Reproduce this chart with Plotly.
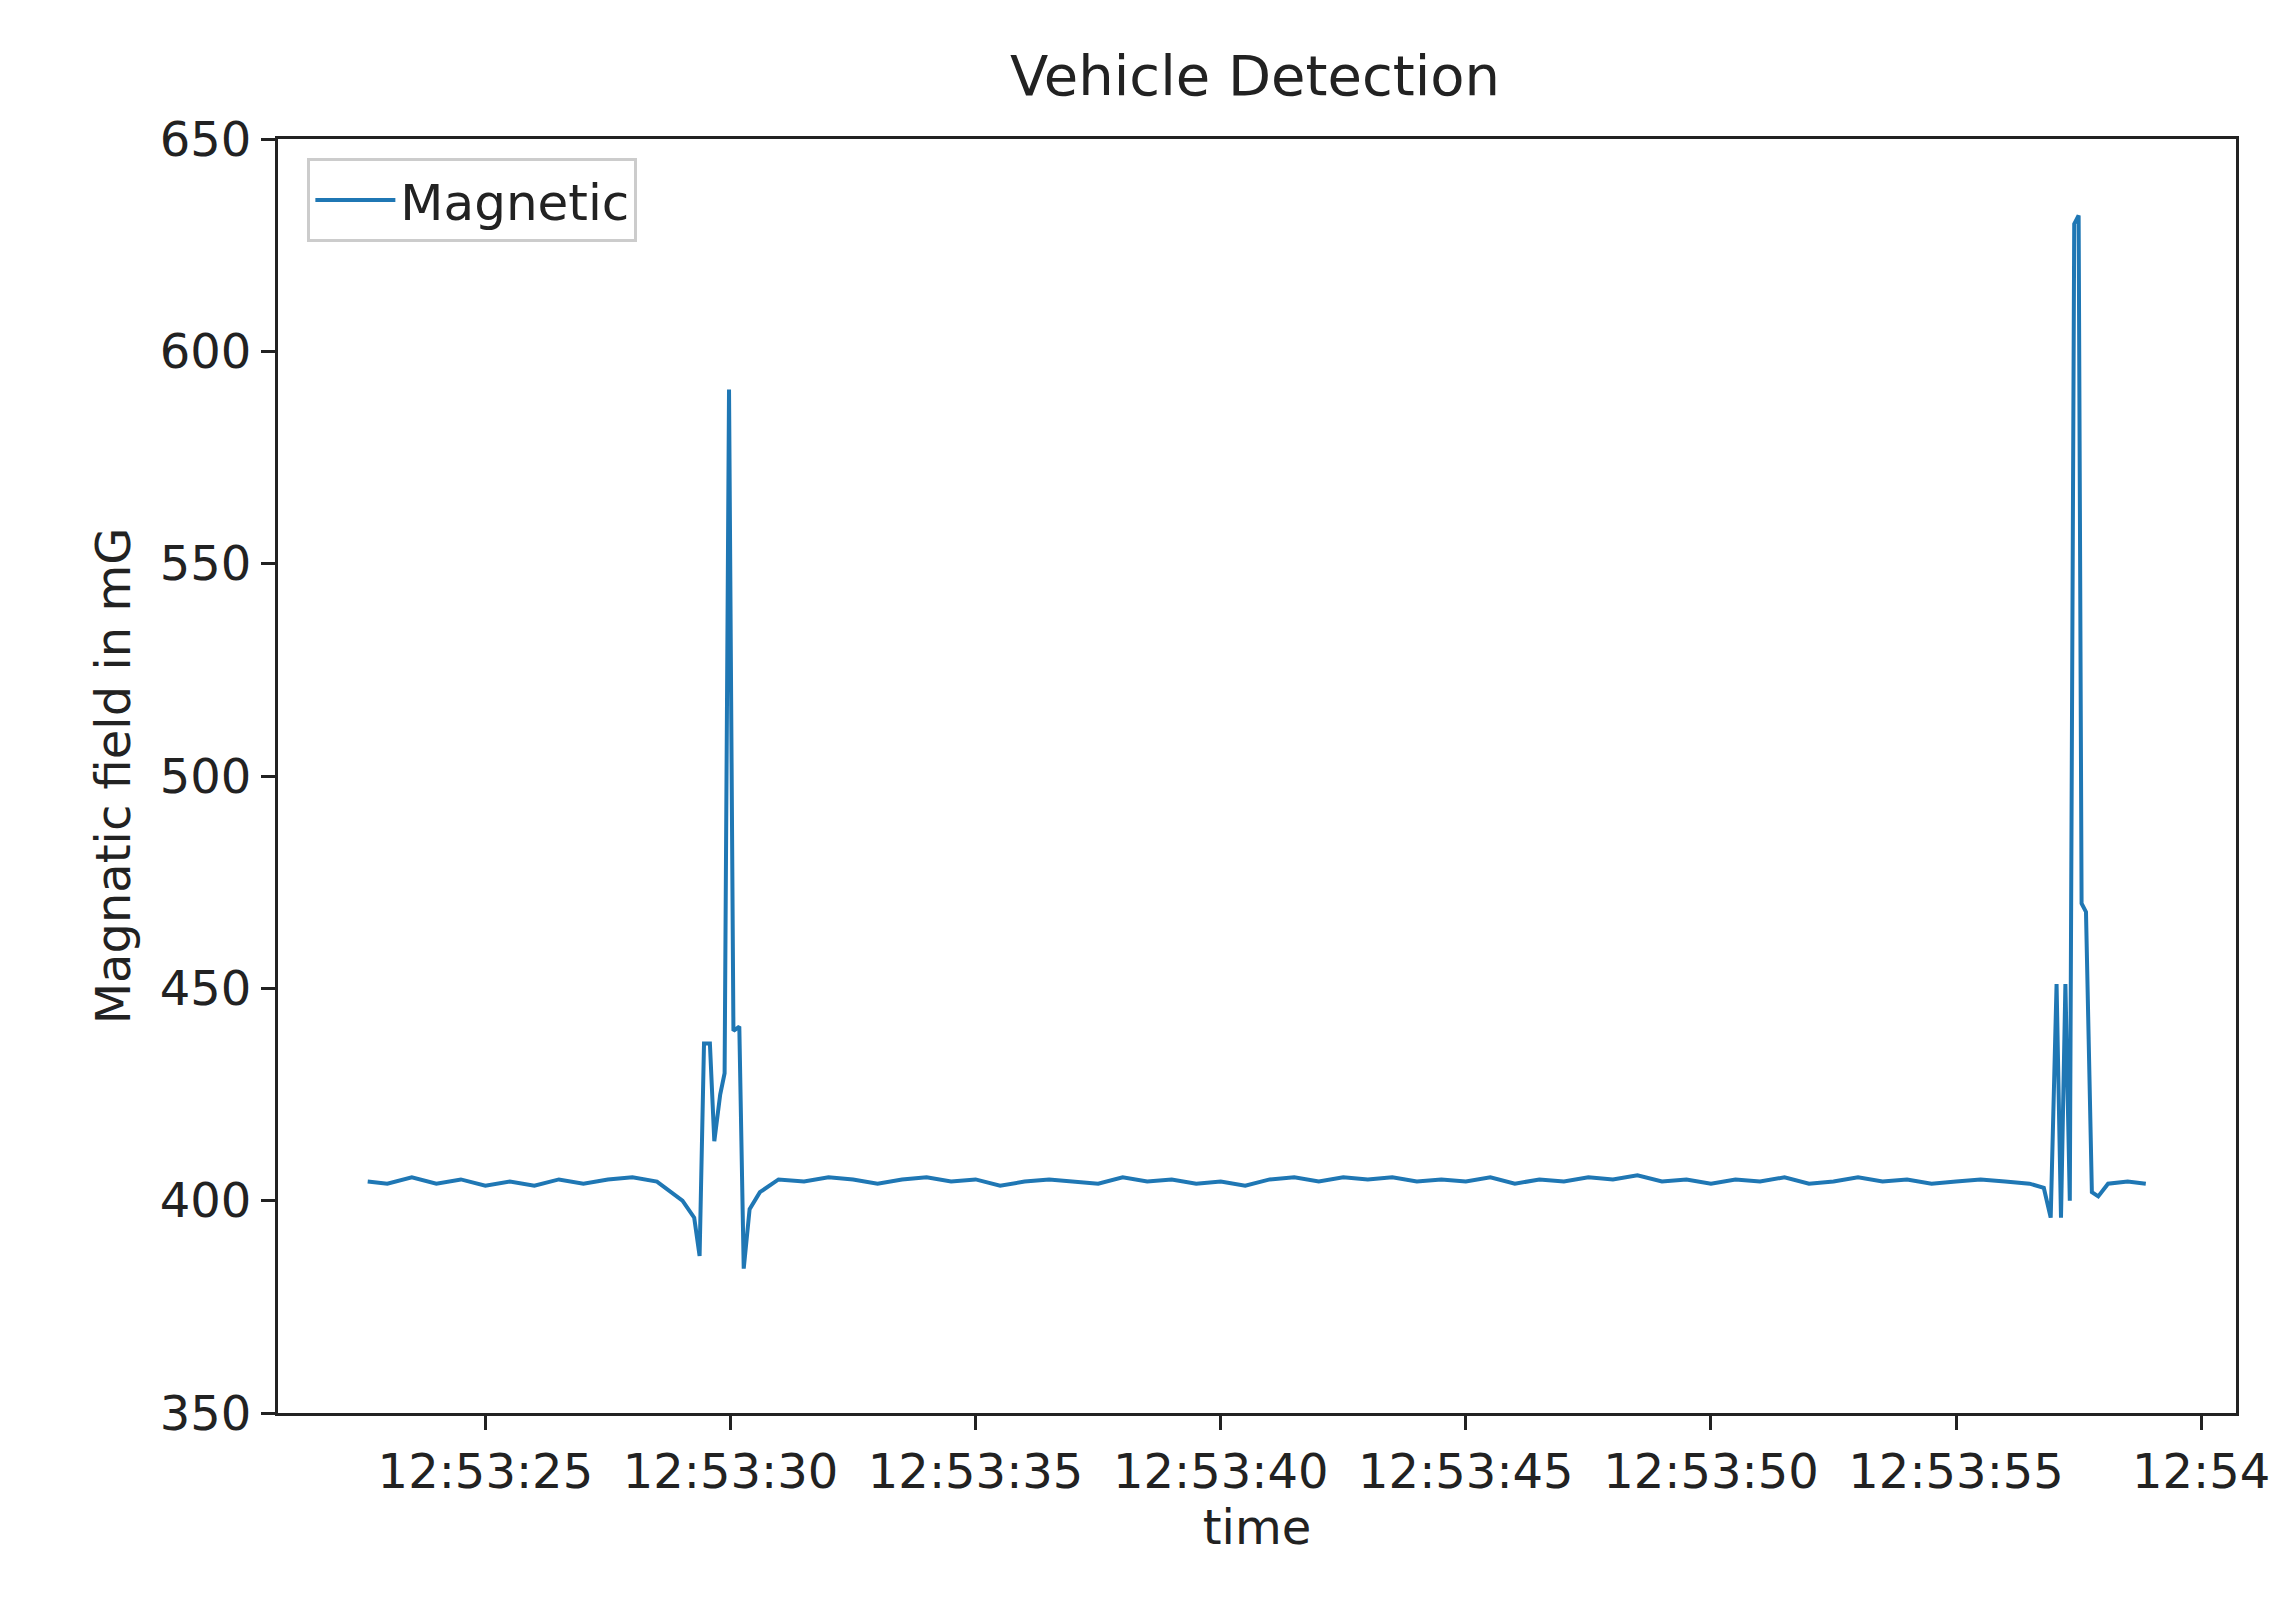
import plotly.graph_objects as go
import pandas as pd

# seconds after 12:53:00 and magnetic field readings (mG)
seconds = [22.6, 23.0, 23.5, 24.0, 24.5, 25.0, 25.5, 26.0, 26.5, 27.0, 27.5, 28.0, 28.5,
           29.02, 29.26, 29.37, 29.46, 29.58, 29.67, 29.79, 29.88, 29.97, 30.06, 30.18,
           30.27, 30.39, 30.6, 30.98,
           31.5, 32.0, 32.5, 33.0, 33.5, 34.0, 34.5, 35.0, 35.5, 36.0, 36.5, 37.0, 37.5,
           38.0, 38.5, 39.0, 39.5, 40.0, 40.5, 41.0, 41.5, 42.0, 42.5, 43.0, 43.5, 44.0,
           44.5, 45.0, 45.5, 46.0, 46.5, 47.0, 47.5, 48.0, 48.5, 49.0, 49.5, 50.0, 50.5,
           51.0, 51.5, 52.0, 52.5, 53.0, 53.5, 54.0, 54.5, 55.0, 55.5, 56.0, 56.5,
           56.79, 56.93, 57.05, 57.14, 57.23, 57.32, 57.41, 57.5, 57.56, 57.65, 57.77,
           57.9, 58.1, 58.5, 58.87]
field = [404.5, 404.0, 405.5, 404.0, 405.0, 403.5, 404.5, 403.5, 405.0, 404.0, 405.0, 405.5, 404.5,
         400, 396, 387, 437, 437, 414, 425, 430, 591, 440, 441,
         384, 398, 402, 405,
         404.5, 405.5, 405.0, 404.0, 405.0, 405.5, 404.5, 405.0, 403.5, 404.5, 405.0, 404.5, 404.0,
         405.5, 404.5, 405.0, 404.0, 404.5, 403.5, 405.0, 405.5, 404.5, 405.5, 405.0, 405.5, 404.5,
         405.0, 404.5, 405.5, 404.0, 405.0, 404.5, 405.5, 405.0, 406.0, 404.5, 405.0, 404.0, 405.0,
         404.5, 405.5, 404.0, 404.5, 405.5, 404.5, 405.0, 404.0, 404.5, 405.0, 404.5, 404.0,
         403, 396, 451, 396, 451, 400, 630, 632, 470, 468, 402,
         401, 404, 404.5, 404]

tick_seconds = [25, 30, 35, 40, 45, 50, 55, 60]
tick_labels = ["12:53:25", "12:53:30", "12:53:35", "12:53:40",
               "12:53:45", "12:53:50", "12:53:55", "12:54"]

base = pd.Timestamp("2021-01-01 12:53:00")
times = [base + pd.Timedelta(seconds=s) for s in seconds]
tick_times = [base + pd.Timedelta(seconds=s) for s in tick_seconds]

fig = go.Figure()
fig.add_trace(go.Scatter(x=times, y=field, mode="lines", name="Magnetic",
                         line=dict(color="#1f77b4", width=4)))

axis_common = dict(showgrid=False, zeroline=False, showline=True, linecolor="#222",
                   linewidth=3, mirror=True, ticks="outside", ticklen=14, tickwidth=3,
                   tickcolor="#222", tickfont=dict(size=48, color="#222"))
fig.update_xaxes(range=[base + pd.Timedelta(seconds=20.77), base + pd.Timedelta(seconds=60.71)],
                 tickvals=tick_times, ticktext=tick_labels,
                 title=dict(text="time", font=dict(size=48, color="#222"), standoff=8),
                 **axis_common)
fig.update_yaxes(range=[350, 650], tickvals=[350, 400, 450, 500, 550, 600, 650],
                 title=dict(text="Magnatic field in mG", font=dict(size=48, color="#222"), standoff=14),
                 **axis_common)
fig.update_layout(
    width=2288, height=1598,
    title=dict(text="Vehicle Detection", x=0.545, xanchor="center", y=0.97,
               font=dict(size=56, color="#222")),
    font=dict(family="DejaVu Sans"),
    plot_bgcolor="white", paper_bgcolor="white",
    margin=dict(l=270, r=60, t=131, b=193),
    showlegend=True,
    legend=dict(x=0.015, y=0.985, xanchor="left", yanchor="top",
                bordercolor="#ccc", borderwidth=3, bgcolor="rgba(255,255,255,0.8)",
                itemwidth=80, font=dict(size=50, color="#222")),
)
fig.write_html("out.html")
